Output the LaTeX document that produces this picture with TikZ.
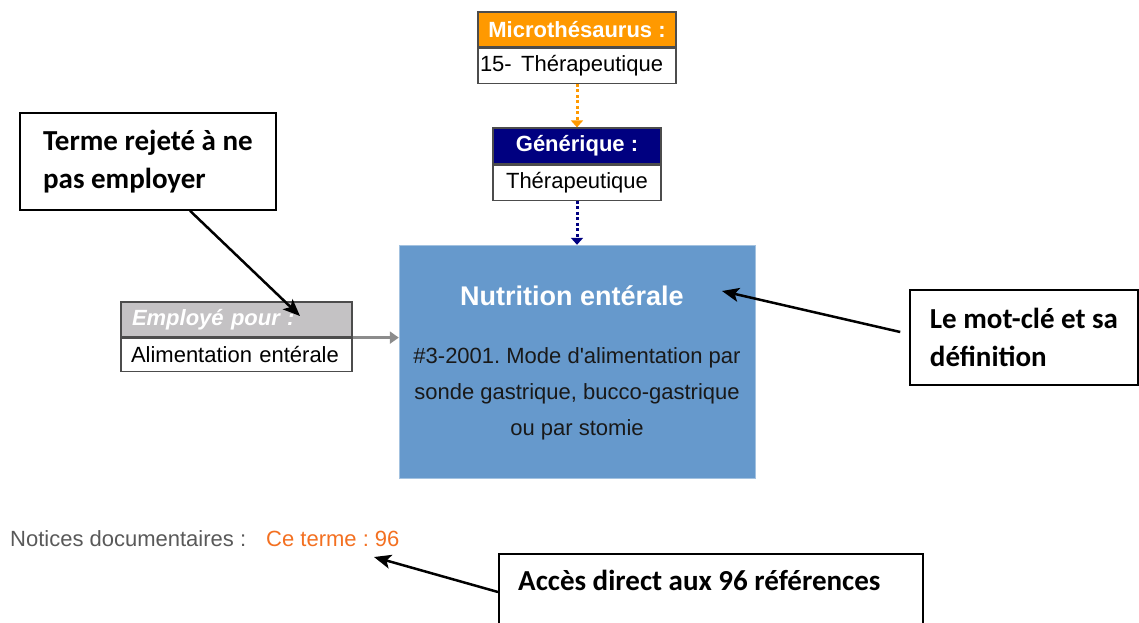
\documentclass[tikz,border=0pt]{standalone}
\usepackage{fontspec}
\setmainfont{Liberation Sans}
\newfontfamily\calloutfont{Carlito}
\usetikzlibrary{positioning,arrows.meta}
\definecolor{microorange}{HTML}{FF9900}
\definecolor{genericnavy}{HTML}{000080}
\definecolor{keyblue}{HTML}{6699CC}
\definecolor{usedgray}{HTML}{C4C2C4}
\definecolor{noteorange}{HTML}{F37021}
\frenchspacing

\begin{document}
\begin{tikzpicture}[x=1pt,y=-1pt,
    boxhead/.style={draw=black!70, line width=1.2pt, minimum height=35pt, inner sep=0pt,
      text=white, font=\bfseries\fontsize{22}{26}\selectfont},
    boxbody/.style={draw=black!70, line width=1.2pt, fill=white, minimum height=35pt,
      inner sep=0pt, font=\fontsize{22}{26}\selectfont},
    callout/.style={draw, line width=1.5pt, fill=white, inner sep=0pt},
    calltext/.style={font=\calloutfont\bfseries\fontsize{29}{38}\selectfont, align=left},
    callarrow/.style={line width=2.5pt, -{Stealth[length=17pt,width=14pt,inset=4pt]}},
    dotarrow/.style={line width=3pt, dash pattern=on 3pt off 2.5pt, -{Triangle[length=7pt,width=12pt]}}]
                \useasboundingbox (0,0) rectangle (1139,622);

                % Microthesaurus
                \node[boxhead, fill=microorange, minimum width=198pt] (microhead) at (577,29.5) {Microthésaurus :};
                \node[boxbody, below=0pt of microhead, text width=194pt, inner xsep=2pt, align=left] (microbody) {15-\ \kern2pt Thérapeutique};

                % Generique
                \node[boxhead, fill=genericnavy, minimum width=168pt, minimum height=36pt] (generichead) at (577,146) {Générique :};
                \node[boxbody, below=0pt of generichead, minimum width=168pt] (genericbody) {Thérapeutique};

                % mot-cle
                \node[fill=keyblue, draw=keyblue!60!white, minimum width=356pt, minimum height=233pt] (keyword) at (577,361.5) {};
                \node[text=white, font=\bfseries\fontsize{27}{31}\selectfont] (keytitle) at (572,296) {Nutrition entérale};
                \node[text=black!90, align=center, font=\fontsize{22}{36}\selectfont] (keydef) at (577,394)
                    {\#3-2001. Mode d\textquotesingle alimentation par\\sonde gastrique, bucco-gastrique\\ou par stomie};

                % Employe pour
                \node[boxhead, fill=usedgray, text width=209pt, inner xsep=11pt, align=left,
                      font=\bfseries\itshape\fontsize{22}{26}\selectfont] (usedhead) at (236.5,319.5) {Employé pour :};
                \node[boxbody, below=0pt of usedhead, text width=211pt, inner xsep=10pt, align=left,
                      minimum height=33pt] (usedbody) {Alimentation entérale};

                % liens
                \draw[dotarrow, microorange] (microbody.south) -- (generichead.north);
                \draw[dotarrow, genericnavy] (genericbody.south) -- (keyword.north);
                \draw[line width=3pt, black!45, -{Triangle[length=9pt,width=12pt]}]
                    (usedhead.south east) -- (keyword.west |- usedhead.south east);

                % notices
                \node[anchor=west, inner sep=0pt, text=black!65, font=\fontsize{22}{26}\selectfont] (notices) at (10,539) {Notices documentaires :};
                \node[anchor=west, inner sep=0pt, text=noteorange, font=\fontsize{22}{26}\selectfont] (noteterm) at (266,539) {Ce terme : 96};

                % bulles
                \node[callout, calltext, minimum width=256pt, minimum height=97pt] (rejected) at (148,161.5)
                    {Terme rejeté à ne\\pas employer};
                \node[callout, calltext, minimum width=228pt, minimum height=95pt] (motcle) at (1024,337.5)
                    {Le mot-clé et sa\\définition};
                \node[callout, anchor=north west, minimum width=424pt, minimum height=110pt] (direct) at (498,553) {};
                \node[calltext, anchor=base west, inner sep=0pt] (directtext) at (518,590) {Accès direct aux 96 références};

                % fleches
                \coordinate (rejectedtip) at (300,316);
                \coordinate (keywordtip) at (722,291);
                \coordinate (notestip) at (374,557);
                \draw[callarrow] ([xshift=42pt]rejected.south) -- (rejectedtip);
                \draw[callarrow] ([xshift=-9pt,yshift=5.5pt]motcle.west) -- (keywordtip);
                \draw[callarrow] ([yshift=-39pt]direct.north west) -- (notestip);
            \end{tikzpicture}
\end{document}
